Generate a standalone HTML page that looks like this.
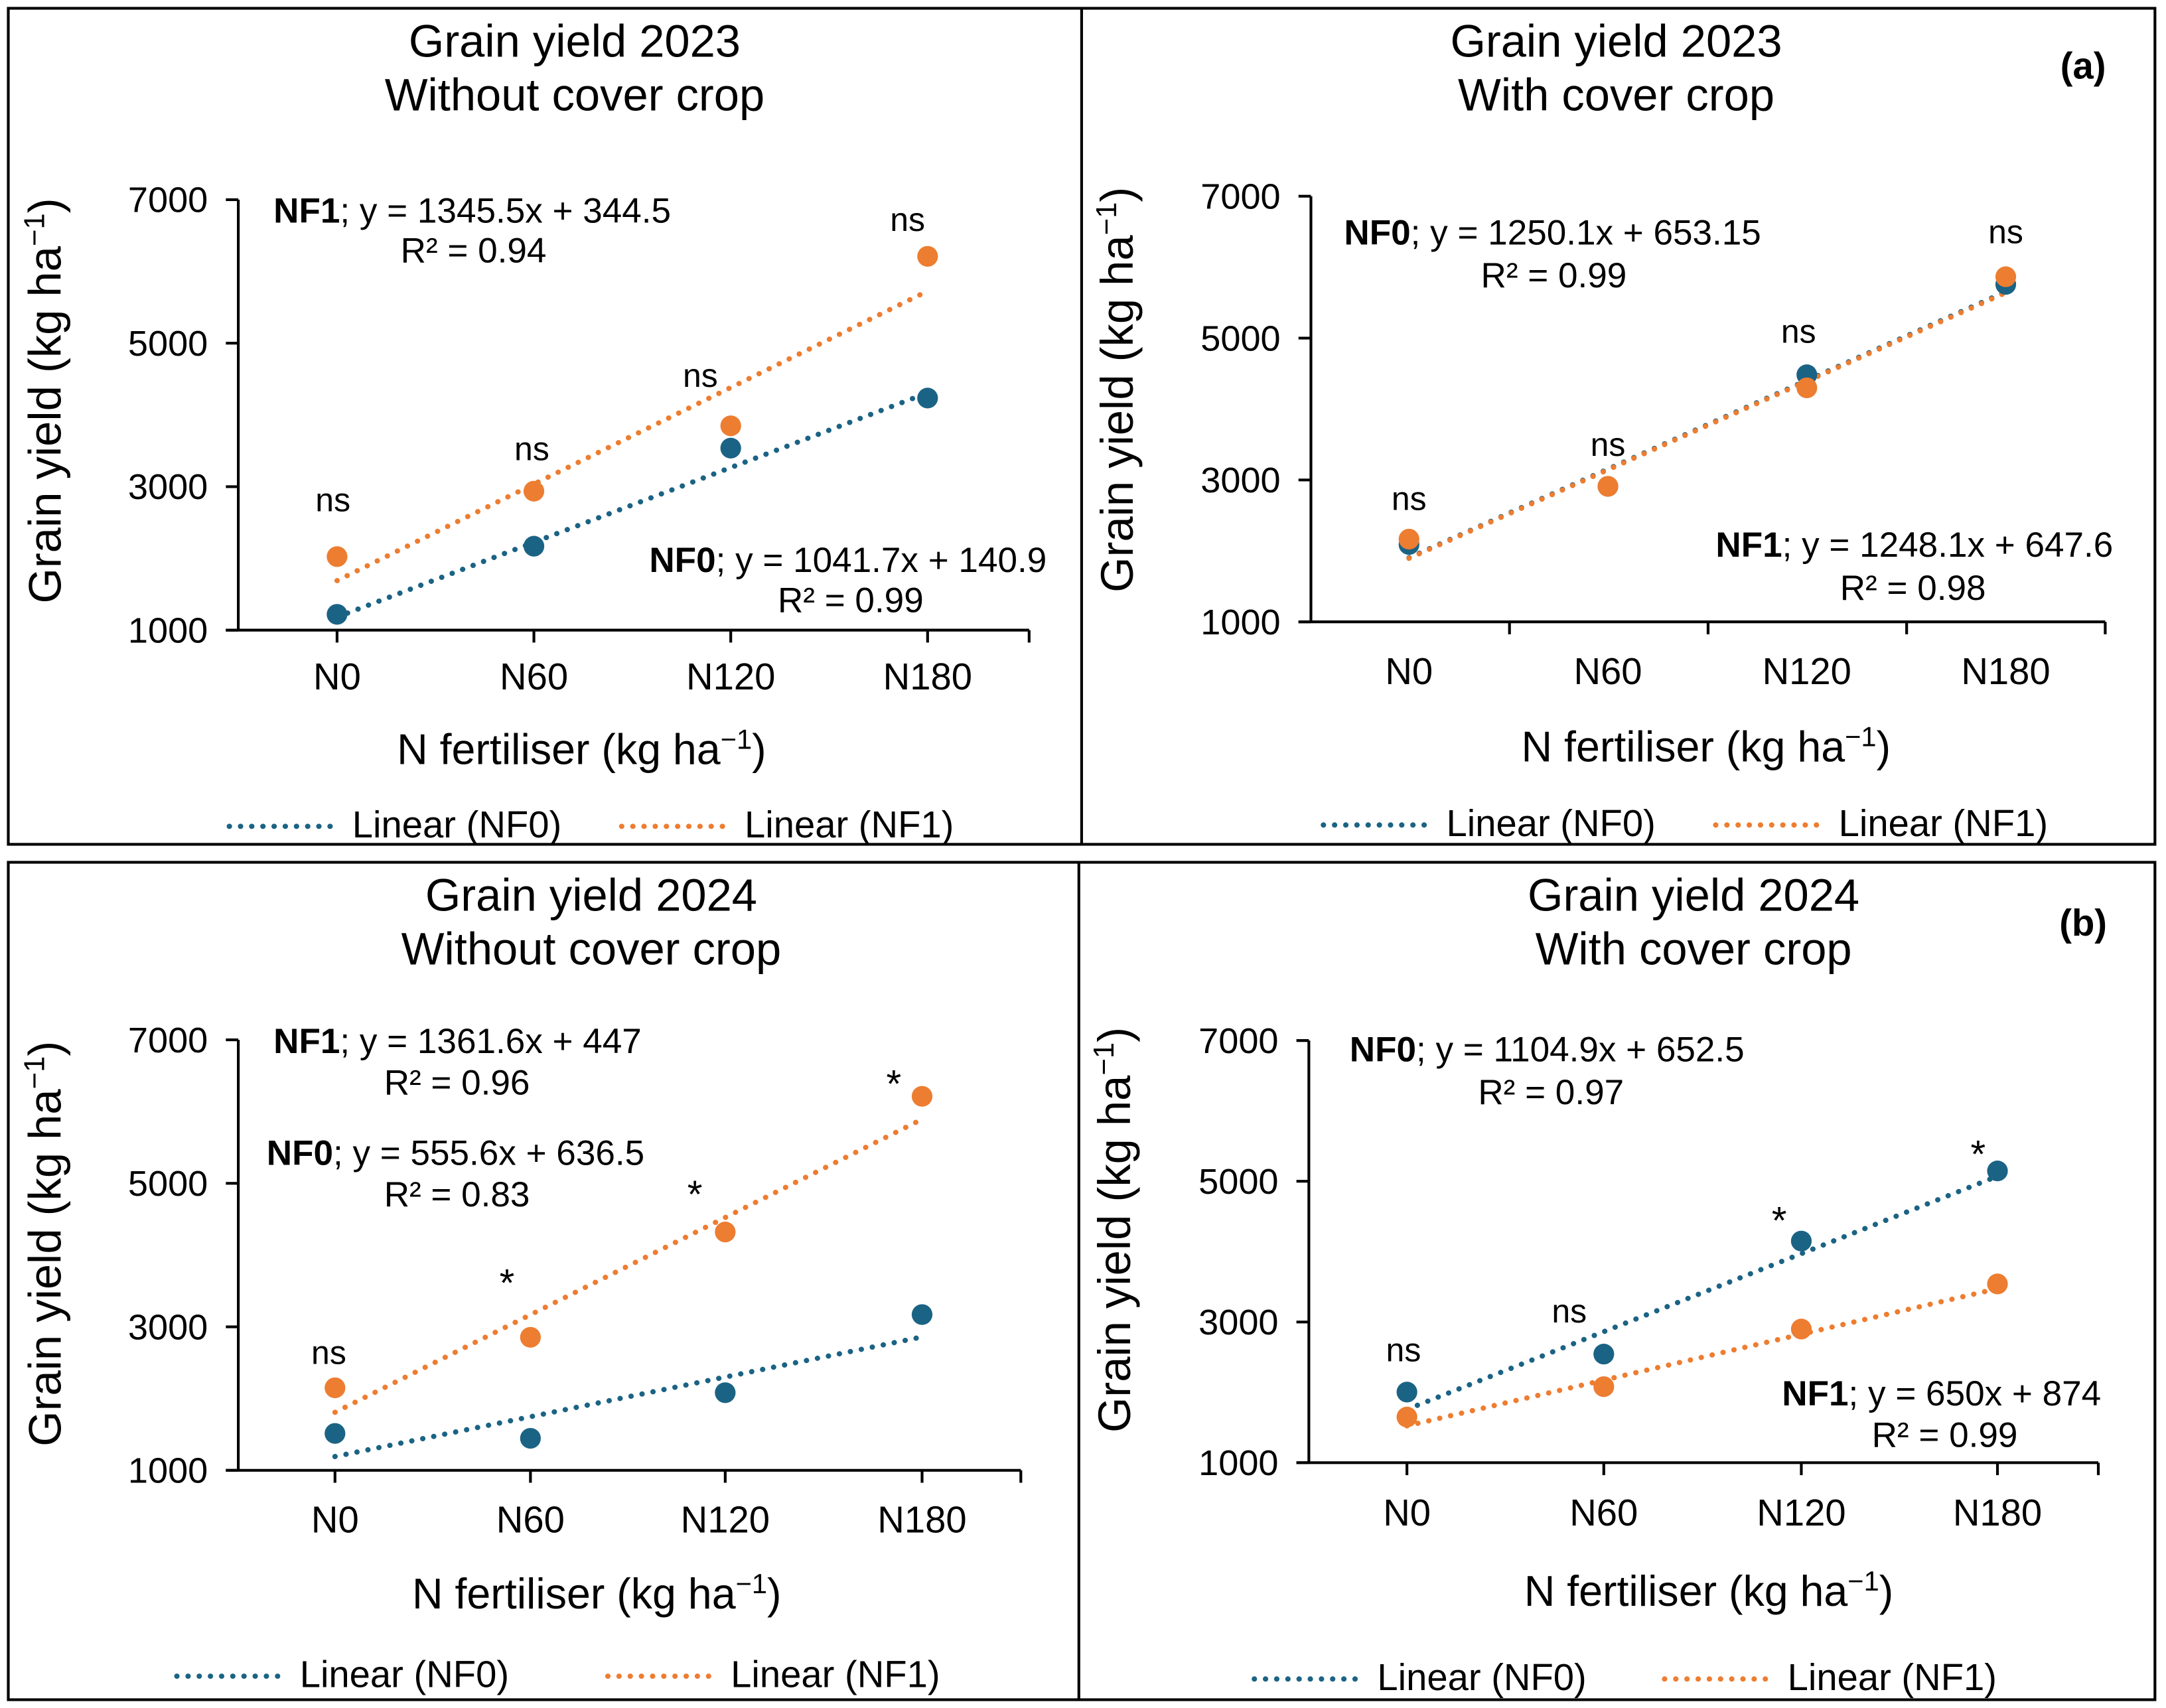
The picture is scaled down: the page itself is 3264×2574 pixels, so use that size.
<!DOCTYPE html>
<html><head><meta charset="utf-8">
<style>
html,body{margin:0;padding:0;background:#fff;}
svg{display:block;font-family:"Liberation Sans",Arial,sans-serif;}
</style></head>
<body>
<svg id="fig" width="3264" height="2574" viewBox="0 0 1568 1236" preserveAspectRatio="none" xmlns="http://www.w3.org/2000/svg">
<rect x="0" y="0" width="1568" height="1236" fill="#fff"/>
<rect x="6" y="6" width="1554" height="605" fill="none" stroke="#000" stroke-width="2"/>
<line x1="783" y1="6" x2="783" y2="611" stroke="#000" stroke-width="2"/>
<rect x="6" y="624" width="1554" height="606" fill="none" stroke="#000" stroke-width="2"/>
<line x1="781" y1="624" x2="781" y2="1230" stroke="#000" stroke-width="2"/>
<g id="root"></g>
</svg>
<script>
// ---- data ----
const categories = ["N0","N60","N120","N180"];
const yTicks = [1000,3000,5000,7000];
// panel A: 2023 without cover crop
const a_nf0 = [1220,2170,3537,4235];
const a_nf1 = [2025,2937,3848,6210];
const a_fit0 = [1041.7,140.9];
const a_fit1 = [1345.5,344.5];
const a_sig = ["ns","ns","ns","ns"];
// panel B: 2023 with cover crop
const b_nf0 = [2090,2910,4483,5757];
const b_nf1 = [2166,2910,4299,5865];
const b_fit0 = [1250.1,653.15];
const b_fit1 = [1248.1,647.6];
const b_sig = ["ns","ns","ns","ns"];
// panel C: 2024 without cover crop
const c_nf0 = [1514,1446,2082,3171];
const c_nf1 = [2150,2854,4322,6213];
const c_fit0 = [555.6,636.5];
const c_fit1 = [1361.6,447];
const c_sig = ["ns","*","*","*"];
// panel D: 2024 with cover crop
const d_nf0 = [2004,2544,4150,5147];
const d_nf1 = [1649,2081,2900,3541];
const d_fit0 = [1104.9,652.5];
const d_fit1 = [650,874];
const d_sig = ["ns","ns","*","*"];

const BLUE="#1b6384", ORANGE="#ed7d31";
const NS="http://www.w3.org/2000/svg";
const root=document.getElementById('root');
function mk(tag,attrs,parent,text){
  const e=document.createElementNS(NS,tag);
  for(const k in attrs) e.setAttribute(k,attrs[k]);
  if(text!==undefined) e.textContent=text;
  (parent||root).appendChild(e);
  return e;
}
function addEq(g,x,y,bold,rest,rx,ry,r2){
  const t=mk('text',{x:x,y:y,'font-size':25.5,fill:'#000'},g);
  
  
  mk('tspan',{'font-weight':'bold'},t,bold);
  mk('tspan',{},t,rest);
  const t2=mk('text',{x:rx,y:ry,'font-size':25.5,fill:'#000'},g,r2);
  
  
}
function panel(p){
  const g=mk('g',{});
  
  
  const x0=p.ax0, x1=p.ax1, yb=p.yb, yt=p.yt;
  const bw=(x1-x0)/4;
  const xs=i=>p.cx? p.cx[i] : x0+bw*(i+0.5);
  const ys=v=>yb-(v-1000)/6000*(yb-yt);
  let t=mk('text',{x:p.tc,y:p.ty,'font-size':33,'text-anchor':'middle'},g,p.title1);
  
  
  t=mk('text',{x:p.tc,y:p.ty+39,'font-size':33,'text-anchor':'middle'},g,p.title2);
  
  
  if(p.tag){
    t=mk('text',{x:p.tagx,y:p.tagy,'font-size':27,'font-weight':'bold','text-anchor':'middle'},g,p.tag);
    
    
  }
  let l=mk('line',{x1:x0,y1:yt,x2:x0,y2:yb,stroke:'#000','stroke-width':2},g);
  
  
  l=mk('line',{x1:x0-9,y1:yb,x2:x1,y2:yb,stroke:'#000','stroke-width':2},g);
  
  
  yTicks.forEach(v=>{
    mk('line',{x1:x0-9,y1:ys(v),x2:x0,y2:ys(v),stroke:'#000','stroke-width':2},g);
    const tt=mk('text',{x:x0-22,y:ys(v)+9,'font-size':26,'text-anchor':'end'},g,String(v));
    
    
  });
  const tickXs=[];
  if(p.boundaryTicks){for(let i=1;i<=4;i++) tickXs.push(x0+bw*i);}
  else {categories.forEach((c,i)=>tickXs.push(xs(i))); tickXs.push(x1);}
  tickXs.forEach(x=>mk('line',{x1:x,y1:yb,x2:x,y2:yb+9,stroke:'#000','stroke-width':2},g));
  categories.forEach((c,i)=>{
    const tt=mk('text',{x:xs(i),y:p.catY,'font-size':27,'text-anchor':'middle'},g,c);
    
    
  });
  t=mk('text',{x:p.xtc,y:p.xty,'font-size':31,'text-anchor':'middle'},g);
  
  
  t.innerHTML='N fertiliser (kg ha<tspan dy="-11" font-size="20">−1</tspan><tspan dy="11">)</tspan>';
  t=mk('text',{x:0,y:0,'font-size':33,'text-anchor':'middle',transform:`translate(${p.ytx},${p.yty}) rotate(-90)`},g);
  
  
  t.innerHTML='Grain yield (kg ha<tspan dy="-12" font-size="21">−1</tspan><tspan dy="12">)</tspan>';
  const series=[[p.nf0,p.fit0,BLUE,'nf0'],[p.nf1,p.fit1,ORANGE,'nf1']];
  series.forEach(([d,f,col,nm])=>{
    const ln=mk('line',{x1:xs(0),y1:ys(f[0]*1+f[1]),x2:xs(3),y2:ys(f[0]*4+f[1]),stroke:col,'stroke-width':3.8,'stroke-linecap':'round','stroke-dasharray':'0.1 8'},g);
    
    
  });
  series.forEach(([d,f,col,nm])=>{
    d.forEach((v,i)=>{
      const c=mk('circle',{cx:xs(i),cy:ys(v),r:7.5,fill:col},g);
      
      
    });
  });
  p.sig.forEach((s,i)=>{
    const tt=mk('text',{x:p.sigPos[i][0],y:p.sigPos[i][1],'font-size':s==='*'?28:24,'text-anchor':'middle'},g,s);
    
    
  });
  p.eqs.forEach(e=>addEq(g,...e));
  const lg=mk('g',{},g);
  
  
  [[p.leg[0],BLUE,'Linear (NF0)'],[p.leg[1],ORANGE,'Linear (NF1)']].forEach(([lx,col,lab])=>{
    const e=mk('line',{x1:lx,y1:p.legY-8,x2:lx+77,y2:p.legY-8,stroke:col,'stroke-width':3.8,'stroke-linecap':'round','stroke-dasharray':'0.1 8'},lg);
    
    
    const tt=mk('text',{x:lx+89,y:p.legY,'font-size':27},lg,lab);
    
    
  });
}
panel({name:'panel-2023-without-cover',title1:'Grain yield 2023',title2:'Without cover crop',tc:416,ty:41,
  ax0:172.5,ax1:745,yb:456,yt:144.5,cx:[244,386.5,529,671.5],boundaryTicks:false,catY:499,
  xtc:421,xty:553,ytx:44,yty:290,nf0:a_nf0,nf1:a_nf1,fit0:a_fit0,fit1:a_fit1,sig:a_sig,
  sigPos:[[241,370],[385,333],[507,280],[657,167]],
  eqs:[[198,161,'NF1','; y = 1345.5x + 344.5',290,190,'R² = 0.94'],[470,414,'NF0','; y = 1041.7x + 140.9',563,443,'R² = 0.99']],
  leg:[166,450],legY:606});
panel({name:'panel-2023-with-cover',title1:'Grain yield 2023',title2:'With cover crop',tc:1170,ty:41,tag:'(a)',tagx:1508,tagy:57,
  ax0:949,ax1:1524,yb:450,yt:142,cx:[1020,1164,1308,1452],boundaryTicks:true,catY:495,
  xtc:1235,xty:551,ytx:820,yty:282,nf0:b_nf0,nf1:b_nf1,fit0:b_fit0,fit1:b_fit1,sig:b_sig,
  sigPos:[[1020,369],[1164,330],[1302,248],[1452,176]],
  eqs:[[973,177,'NF0','; y = 1250.1x + 653.15',1072,208,'R² = 0.99'],[1242,403,'NF1','; y = 1248.1x + 647.6',1332,434,'R² = 0.98']],
  leg:[958,1242],legY:605});
panel({name:'panel-2024-without-cover',title1:'Grain yield 2024',title2:'Without cover crop',tc:428,ty:659,
  ax0:172.5,ax1:739,yb:1064,yt:752.5,cx:[242.5,384,525,667.5],boundaryTicks:false,catY:1109,
  xtc:432,xty:1164,ytx:44,yty:900,nf0:c_nf0,nf1:c_nf1,fit0:c_fit0,fit1:c_fit1,sig:c_sig,
  sigPos:[[238,987],[367,938],[503,874],[647,794]],
  eqs:[[198,762,'NF1','; y = 1361.6x + 447',278,792,'R² = 0.96'],[193,843,'NF0','; y = 555.6x + 636.5',278,873,'R² = 0.83']],
  leg:[128,440],legY:1221});
panel({name:'panel-2024-with-cover',title1:'Grain yield 2024',title2:'With cover crop',tc:1226,ty:659,tag:'(b)',tagx:1508,tagy:677,
  ax0:947.5,ax1:1519,yb:1058.5,yt:753,cx:[1018.5,1161,1304,1446],boundaryTicks:false,catY:1104,
  xtc:1237,xty:1162,ytx:818,yty:890,nf0:d_nf0,nf1:d_nf1,fit0:d_fit0,fit1:d_fit1,sig:d_sig,
  sigPos:[[1016,985],[1136,957],[1288,893],[1432,845]],
  eqs:[[977,768,'NF0','; y = 1104.9x + 652.5',1070,799,'R² = 0.97'],[1290,1017,'NF1','; y = 650x + 874',1355,1047,'R² = 0.99']],
  leg:[908,1205],legY:1223});
</script>
</body></html>
